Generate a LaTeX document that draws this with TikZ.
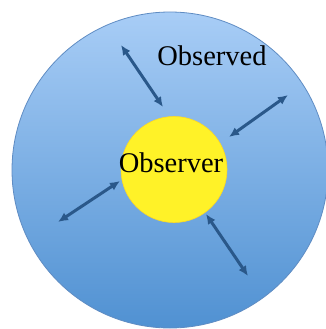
\documentclass[tikz,border=0pt]{standalone}
\usepackage{fontspec}
\setmainfont{Liberation Serif}
\usetikzlibrary{arrows.meta}
\definecolor{bluetop}{RGB}{168,205,246}
\definecolor{bluebot}{RGB}{80,145,210}
\definecolor{blueedge}{RGB}{95,140,195}
\definecolor{sun}{RGB}{255,242,40}
\definecolor{arrowblue}{RGB}{42,88,138}
\tikzset{
  outercirc/.style={circle, draw=blueedge, line width=0.8pt, top color=bluetop, bottom color=bluebot, minimum size=316pt, inner sep=0pt},
  innercirc/.style={circle, draw=sun!80!orange, line width=0.6pt, fill=sun, minimum size=106pt, inner sep=0pt},
  lbl/.style={font=\fontsize{28.5}{30}\selectfont, inner sep=0pt},
  link/.style={arrowblue, line width=3pt, {Latex[length=10pt,width=9pt]}-{Latex[length=10pt,width=9pt]}}
}
\begin{document}
\begin{tikzpicture}[x=1pt,y=-1pt]
\useasboundingbox (0,0) rectangle (325,329);
\node[outercirc] (world) at (170,170) {};
\node[innercirc] (self) at (174,169.5) {};
\node[lbl] (observer) at (171,163) {Observer};
\node[lbl] (observed) at (212,56) {Observed};
\coordinate (a1) at (121,45);  \coordinate (b1) at (163,107);
\coordinate (a2) at (288,95);  \coordinate (b2) at (229,137);
\coordinate (a3) at (120,181); \coordinate (b3) at (58,222);
\coordinate (a4) at (206,214); \coordinate (b4) at (248,276);
\draw[link] (a1) -- (b1);
\draw[link] (a2) -- (b2);
\draw[link] (a3) -- (b3);
\draw[link] (a4) -- (b4);
\end{tikzpicture}
\end{document}
